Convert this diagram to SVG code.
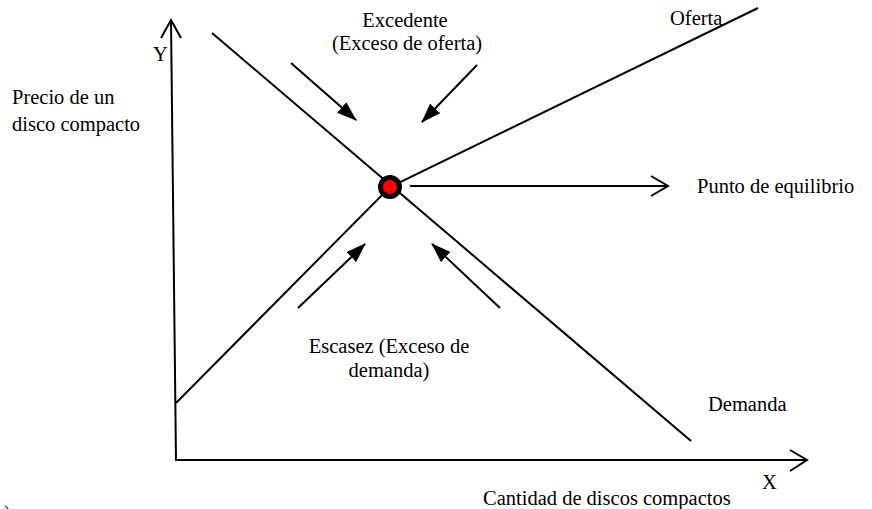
<svg xmlns="http://www.w3.org/2000/svg" width="872" height="509" viewBox="0 0 872 509">
<defs>
<style>
text{font-family:"Liberation Serif","Times New Roman",serif;font-size:20.5px;fill:#000}
.ln{stroke:#000;stroke-width:2;fill:none}
.open{stroke:#000;stroke-width:2;fill:none}
</style>
<marker id="fa" viewBox="0 0 20 14" refX="19" refY="7" markerWidth="20" markerHeight="14" markerUnits="userSpaceOnUse" orient="auto">
<path d="M0,0 L20,7 L0,14 Z" fill="#000"/>
</marker>
</defs>
<rect width="872" height="509" fill="#fff"/>
<g id="connectors">
<path id="y-axis" class="ln" d="M176,461 L171,21"/>
<path class="open" d="M161,38 L171,20 L181,38"/>
<path id="x-axis" class="ln" d="M176,460 L806,460"/>
<path class="open" d="M790,450 L807,460 L790,471"/>
<path id="demanda" class="ln" d="M212,33 L691,441"/>
<path id="oferta" class="ln" d="M176,403 L390,187 L758,8"/>
<path id="eq-arrow" class="ln" d="M410,186 L667,186"/>
<path class="open" d="M651,176 L668,186 L651,196"/>
<path class="ln" d="M291,63 L356,120" marker-end="url(#fa)"/>
<path class="ln" d="M477,65 L422,122" marker-end="url(#fa)"/>
<path class="ln" d="M298,308 L365,244" marker-end="url(#fa)"/>
<path class="ln" d="M500,308 L432,244" marker-end="url(#fa)"/>
</g>
<g id="equilibrio">
<circle cx="390" cy="187" r="9.5" fill="#f00" stroke="#000" stroke-width="5"/>
</g>
<g id="labels">
<text x="153" y="61">Y</text>
<text x="405" y="27" text-anchor="middle">Excedente</text>
<text x="407" y="50" text-anchor="middle">(Exceso de oferta)</text>
<text x="670" y="25">Oferta</text>
<text x="12" y="104">Precio de un</text>
<text x="12" y="131">disco compacto</text>
<text x="697" y="193">Punto de equilibrio</text>
<text x="389" y="353" text-anchor="middle">Escasez (Exceso de</text>
<text x="389" y="377" text-anchor="middle">demanda)</text>
<text x="708" y="411">Demanda</text>
<text x="762" y="489">X</text>
<text x="483" y="505">Cantidad de discos compactos</text>
<text x="4" y="520">)</text>
</g>
</svg>
